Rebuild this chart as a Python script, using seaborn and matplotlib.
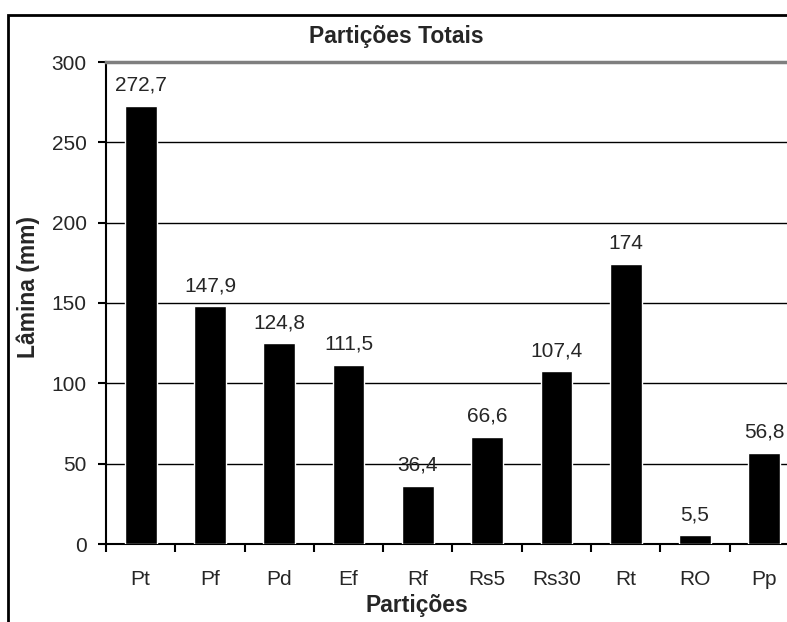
import numpy as np
import pandas as pd
import seaborn as sns
import matplotlib.pyplot as plt
from matplotlib.patches import Rectangle
from matplotlib.ticker import FixedLocator

# ---- data ----
particoes = ['Pt', 'Pf', 'Pd', 'Ef', 'Rf', 'Rs5', 'Rs30', 'Rt', 'RO', 'Pp']
lamina = [272.7, 147.9, 124.8, 111.5, 36.4, 66.6, 107.4, 174, 5.5, 56.8]

df = pd.DataFrame({'Partições': particoes, 'Lâmina (mm)': lamina})

sns.set_style('white')
plt.rcParams['font.family'] = ['Liberation Sans', 'DejaVu Sans']

fig = plt.figure(figsize=(7.87, 6.22), dpi=100)
ax = fig.add_axes([106 / 787, 1 - 544 / 622, 693 / 787, 482 / 622])

sns.barplot(data=df, x='Partições', y='Lâmina (mm)', color='black',
            width=0.46, saturation=1, ax=ax, zorder=3)

# value labels above the bars, comma as decimal separator
for i, v in enumerate(lamina):
    ax.annotate('{:g}'.format(v).replace('.', ','), (i, v),
                xytext=(0, 8), textcoords='offset points',
                ha='center', va='bottom', fontsize=15, zorder=4)

ax.set_xlim(-0.5, len(particoes) - 0.5)
ax.set_ylim(0, 300)
ax.set_yticks(np.arange(0, 301, 50))
ax.yaxis.grid(True, color='black', lw=1)
ax.set_axisbelow(True)

# x ticks sit between categories, labels at the centres
ax.xaxis.set_minor_locator(FixedLocator(np.arange(-0.5, len(particoes), 1)))
ax.tick_params(axis='x', which='major', length=0, pad=19, labelsize=15)
ax.tick_params(axis='x', which='minor', length=6, width=1.5, color='black',
               direction='out', bottom=True)
ax.tick_params(axis='y', length=6, width=1.5, color='black', direction='out',
               left=True, pad=8, labelsize=15)

for s in ['left', 'bottom']:
    ax.spines[s].set_color('black')
    ax.spines[s].set_linewidth(1.5)
ax.spines['right'].set_visible(False)
ax.spines['top'].set_color('#7f7f7f')
ax.spines['top'].set_linewidth(2.5)

ax.set_xlabel('Partições', fontsize=16.5, fontweight='bold')
ax.set_ylabel('Lâmina (mm)', fontsize=16.5, fontweight='bold')
ax.xaxis.set_label_coords((417 - 106) / 693, -(594 - 544) / 482)
ax.yaxis.set_label_coords(-(106 - 40) / 693, (544 - 287) / 482)
fig.text(0.5 + 3 / 787, 1 - 36 / 622, 'Partições Totais', ha='center',
         va='center', fontsize=16.5, fontweight='bold')

# chart frame, cut off at the right and bottom like the original
fig.patches.append(Rectangle((8 / 787, -0.1), 1.2, 1 - 15 / 622 + 0.1,
                             transform=fig.transFigure, fill=False,
                             edgecolor='black', lw=2, clip_on=False))

plt.savefig('out.png', dpi=100)
